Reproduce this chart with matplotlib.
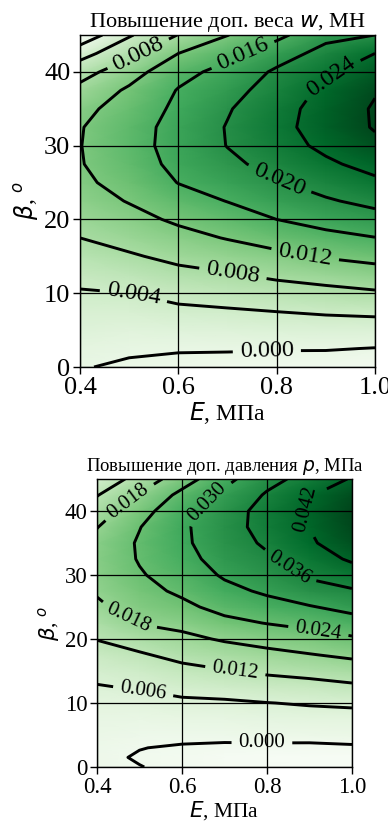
import numpy as np
import matplotlib
matplotlib.use("Agg")
import matplotlib.pyplot as plt

plt.rcParams['font.family'] = ['Liberation Serif', 'DejaVu Serif']
plt.rcParams['mathtext.fontset'] = 'dejavusans'

# ---------------- data: panel 1 (w, MN) ----------------
E_vals = [0.4, 0.5, 0.6, 0.7, 0.8, 0.9, 1.0]
beta_w = [0, 2.5, 5, 7.5, 10, 12.5, 15, 17.5, 20, 22.5, 25, 27.5, 30, 32.5, 35, 37.5, 40, 42.5, 45]
w_E04 = [0.0002, 0.0010, 0.0018, 0.0027, 0.0037, 0.0050, 0.0064, 0.0080, 0.0093, 0.0104, 0.0113, 0.0118, 0.0119, 0.0118, 0.0110, 0.0091, 0.0065, 0.0025, -0.0030]
w_E05 = [-0.0005, 0.0005, 0.0015, 0.0027, 0.0040, 0.0058, 0.0076, 0.0093, 0.0108, 0.0122, 0.0133, 0.0141, 0.0145, 0.0143, 0.0136, 0.0126, 0.0103, 0.0070, 0.0036]
w_E06 = [-0.0010, 0.0003, 0.0017, 0.0033, 0.0050, 0.0070, 0.0089, 0.0108, 0.0126, 0.0144, 0.0161, 0.0170, 0.0174, 0.0174, 0.0168, 0.0162, 0.0148, 0.0120, 0.0081]
w_E07 = [-0.0013, 0.0003, 0.0019, 0.0036, 0.0056, 0.0077, 0.0099, 0.0122, 0.0142, 0.0161, 0.0178, 0.0192, 0.0201, 0.0202, 0.0197, 0.0187, 0.0172, 0.0150, 0.0119]
w_E08 = [-0.0015, 0.0002, 0.0021, 0.0040, 0.0063, 0.0087, 0.0111, 0.0136, 0.0160, 0.0180, 0.0197, 0.0212, 0.0225, 0.0229, 0.0226, 0.0216, 0.0206, 0.0182, 0.0150]
w_E09 = [-0.0017, 0.0002, 0.0022, 0.0044, 0.0069, 0.0095, 0.0123, 0.0149, 0.0174, 0.0196, 0.0215, 0.0234, 0.0248, 0.0256, 0.0255, 0.0248, 0.0233, 0.0213, 0.0189]
w_E10 = [-0.0020, -0.0001, 0.0022, 0.0047, 0.0075, 0.0104, 0.0131, 0.0159, 0.0186, 0.0210, 0.0233, 0.0252, 0.0271, 0.0283, 0.0284, 0.0277, 0.0263, 0.0240, 0.0200]
levels_w = [0.000, 0.004, 0.008, 0.012, 0.016, 0.020, 0.024, 0.028]

# ---------------- data: panel 2 (p, MPa) ----------------
beta_p = [0, 1.5, 3, 5, 7.5, 10, 12.5, 15, 17.5, 20, 22.5, 25, 27.5, 30, 32.5, 35, 37.5, 40, 42.5, 45]
p_E04 = [0.0009, 0.0008, 0.0011, 0.0017, 0.0028, 0.0042, 0.0057, 0.0075, 0.0096, 0.0122, 0.0145, 0.0170, 0.0186, 0.0195, 0.0199, 0.0197, 0.0178, 0.0150, 0.0117, 0.0075]
p_E05 = [0.0001, -0.0003, 0.0001, 0.0011, 0.0026, 0.0043, 0.0064, 0.0085, 0.0114, 0.0144, 0.0183, 0.0205, 0.0222, 0.0235, 0.0244, 0.0246, 0.0238, 0.0217, 0.0185, 0.0143]
p_E06 = [-0.0008, -0.0010, -0.0004, 0.0010, 0.0030, 0.0051, 0.0076, 0.0105, 0.0135, 0.0166, 0.0196, 0.0227, 0.0250, 0.0266, 0.0280, 0.0289, 0.0290, 0.0281, 0.0256, 0.0212]
p_E07 = [-0.0015, -0.0017, -0.0007, 0.0010, 0.0032, 0.0053, 0.0083, 0.0117, 0.0150, 0.0186, 0.0225, 0.0258, 0.0284, 0.0307, 0.0324, 0.0334, 0.0338, 0.0333, 0.0314, 0.0283]
p_E08 = [-0.0018, -0.0020, -0.0008, 0.0013, 0.0037, 0.0059, 0.0093, 0.0129, 0.0165, 0.0200, 0.0242, 0.0278, 0.0309, 0.0334, 0.0352, 0.0368, 0.0379, 0.0381, 0.0366, 0.0342]
p_E09 = [-0.0020, -0.0022, -0.0009, 0.0014, 0.0041, 0.0064, 0.0100, 0.0138, 0.0177, 0.0215, 0.0256, 0.0296, 0.0338, 0.0368, 0.0392, 0.0412, 0.0421, 0.0425, 0.0415, 0.0380]
p_E10 = [-0.0022, -0.0024, -0.0007, 0.0020, 0.0042, 0.0068, 0.0110, 0.0150, 0.0190, 0.0232, 0.0275, 0.0318, 0.0354, 0.0392, 0.0428, 0.0455, 0.0470, 0.0474, 0.0462, 0.0425]
levels_p = [0.000, 0.006, 0.012, 0.018, 0.024, 0.030, 0.036, 0.042]

x_ticks = [0.4, 0.6, 0.8, 1.0]
y_ticks = [0, 10, 20, 30, 40]

W = np.array([w_E04, w_E05, w_E06, w_E07, w_E08, w_E09, w_E10]).T
P = np.array([p_E04, p_E05, p_E06, p_E07, p_E08, p_E09, p_E10]).T

# label positions (data coords) for contour labels
lab_w = [(0.518, 42.5), (0.73, 42.5), (0.90, 40.2), (0.805, 25.3),
         (0.857, 14.9), (0.711, 12.7), (0.509, 9.8), (0.78, 2.3)]
lab_p = [(0.474, 41.6), (0.658, 41.6), (0.892, 40.3), (0.85, 30.9),
         (0.478, 23.7), (0.92, 20.9), (0.725, 14.8), (0.509, 12.0), (0.788, 3.7)]

fig = plt.figure(figsize=(3.88, 8.25), dpi=100)
ax1 = fig.add_axes([80/388, 1-367/825, 295/388, 332/825])
ax2 = fig.add_axes([97/388, 1-767/825, 255/388, 288/825])


def draw(ax, Z, beta, levels, labpos, title, tick_fs, lab_fs, clab_fs, title_fs):
    EE, BB = np.meshgrid(E_vals, beta)
    ax.pcolormesh(EE, BB, Z, shading='gouraud', cmap='Greens', zorder=0)
    cs = ax.contour(EE, BB, Z, levels=levels, colors='k', linewidths=2.1, zorder=3)
    ax.clabel(cs, fmt='%.3f', fontsize=clab_fs, inline=True, inline_spacing=7,
              manual=labpos)
    ax.set_xlim(0.4, 1.0)
    ax.set_ylim(0, 45)
    ax.set_xticks(x_ticks)
    ax.set_yticks(y_ticks)
    ax.set_xticklabels(['%.1f' % v for v in x_ticks])
    ax.grid(True, color='k', linewidth=0.9, zorder=2)
    ax.tick_params(labelsize=tick_fs, length=5, width=1, color='k', pad=2)
    ax.set_xlabel(r'$E$, МПа', fontsize=lab_fs, labelpad=1)
    ax.set_ylabel(r'$\beta$, $^o$', fontsize=lab_fs, labelpad=2)
    ax.set_title(title, fontsize=title_fs, pad=6)
    for s in ax.spines.values():
        s.set_color('k')
        s.set_linewidth(1.0)


draw(ax1, W, beta_w, levels_w, lab_w, r'Повышение доп. веса $w$, МН', 19, 17, 17.5, 16)
draw(ax2, P, beta_p, levels_p, lab_p, r'Повышение доп. давления $p$, МПа', 16.5, 15.5, 15, 13.5)

fig.savefig('out.png', dpi=100)
